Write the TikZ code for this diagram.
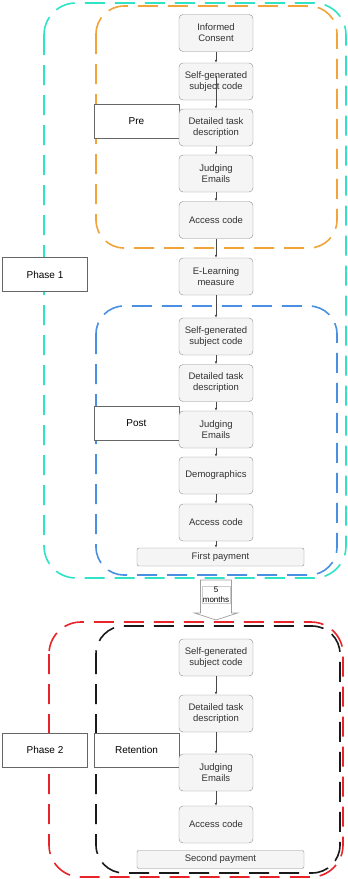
\documentclass[tikz,border=0pt]{standalone}
\usepackage{fontspec}
\setmainfont{Liberation Sans}
\usetikzlibrary{arrows.meta}
\definecolor{cyanline}{HTML}{2FE3C6}
\definecolor{orangeline}{HTML}{F2A33A}
\definecolor{blueline}{HTML}{4A90E2}
\definecolor{redline}{HTML}{E8242A}
\definecolor{darkline}{HTML}{1A1A1A}
\definecolor{boxfill}{HTML}{F5F5F5}
\definecolor{boxline}{HTML}{8C8C8C}
\definecolor{boxtext}{HTML}{333333}
\definecolor{tagline}{HTML}{666666}
\begin{document}
\begin{tikzpicture}[x=1pt, y=-1pt,
  stepbox/.style={draw=boxline, fill=boxfill, rounded corners=4pt, text=boxtext, minimum width=74pt, minimum height=37pt, align=center, inner sep=1pt, font=\fontsize{9.5}{11}\selectfont},
  paybox/.style={stepbox, minimum width=167pt, minimum height=18pt, rounded corners=2pt},
  tagbox/.style={draw=tagline, fill=white, minimum width=85pt, minimum height=34pt, font=\fontsize{10}{12}\selectfont},
  flow/.style={-{Latex[length=3pt,width=2.6pt]}, draw=darkline!80, line width=0.6pt},
  phasebox/.style={dash pattern=on 20pt off 10pt, line width=1.6pt, rounded corners=32pt}]
\useasboundingbox (0,0) rectangle (348,879);
% dashed groups
\draw[phasebox, cyanline] (44,3) rectangle (346,578);
\draw[phasebox, orangeline, rounded corners=28pt] (96,6) rectangle (337,248);
\draw[phasebox, blueline, rounded corners=28pt] (96,306) rectangle (337,575);
\draw[phasebox, redline] (49,622) rectangle (343,877);
\draw[phasebox, darkline, rounded corners=28pt] (96,626) rectangle (340,873);
% phase 1, pre
\node[tagbox] (phaseA) at (45,274.5) {Phase 1};
\node[tagbox] (pre) at (136.5,121) {Pre};
\node[stepbox] (pre1) at (216,33) {Informed\\Consent};
\node[stepbox] (pre2) at (216,81.5) {Self-generated\\subject code};
\node[stepbox] (pre3) at (216,127.5) {Detailed task\\description};
\node[stepbox] (pre4) at (216,173.5) {Judging\\Emails};
\node[stepbox] (pre5) at (216,220) {Access code};
\node[stepbox] (elearn) at (216,276.5) {E-Learning\\measure};
% post
\node[tagbox] (post) at (136.5,423) {Post};
\node[stepbox] (post1) at (216,336.5) {Self-generated\\subject code};
\node[stepbox] (post2) at (216,383) {Detailed task\\description};
\node[stepbox] (post3) at (216,429.5) {Judging\\Emails};
\node[stepbox] (post4) at (216,475.5) {Demographics};
\node[stepbox] (post5) at (216,522.5) {Access code};
\node[paybox] (pay1) at (220.5,557) {First payment};
% gap between phases
\draw[draw=gray!75, fill=white, line width=0.7pt] (200.5,580) -- (231.5,580) -- (231.5,613) -- (237.5,613) -- (216,620) -- (194.5,613) -- (200.5,613) -- cycle;
\node[draw=gray!40, fill=white, align=center, inner sep=1pt, font=\fontsize{8}{10}\selectfont, minimum width=27pt] (gap) at (216,594.5) {5\\months};
% phase 2, retention
\node[tagbox] (phaseB) at (45,750) {Phase 2};
\node[tagbox] (ret) at (136.5,750) {Retention};
\node[stepbox] (ret1) at (216,657.5) {Self-generated\\subject code};
\node[stepbox] (ret2) at (216,713.5) {Detailed task\\description};
\node[stepbox] (ret3) at (216,772.5) {Judging\\Emails};
\node[stepbox] (ret4) at (216,824.5) {Access code};
\node[paybox] (pay2) at (220.5,859.5) {Second payment};
% connectors
\draw[flow] (pre1) -- (pre2);
\draw[flow] ([yshift=6pt]pre2.center) -- (pre3);
\draw[flow] (pre3) -- (pre4);
\draw[flow] (pre4) -- (pre5);
\draw[flow] (pre5) -- (elearn);
\draw[flow] (elearn) -- (post1);
\draw[flow] (post1) -- (post2);
\draw[flow] (post2) -- (post3);
\draw[flow] (post3) -- (post4);
\draw[flow] (post4) -- (post5);
\draw[flow] (post5.south) -- (post5.south |- pay1.north);
\draw[flow] (ret1) -- (ret2);
\draw[flow] (ret2) -- (ret3);
\draw[flow] (ret3) -- (ret4);
\end{tikzpicture}
\end{document}
